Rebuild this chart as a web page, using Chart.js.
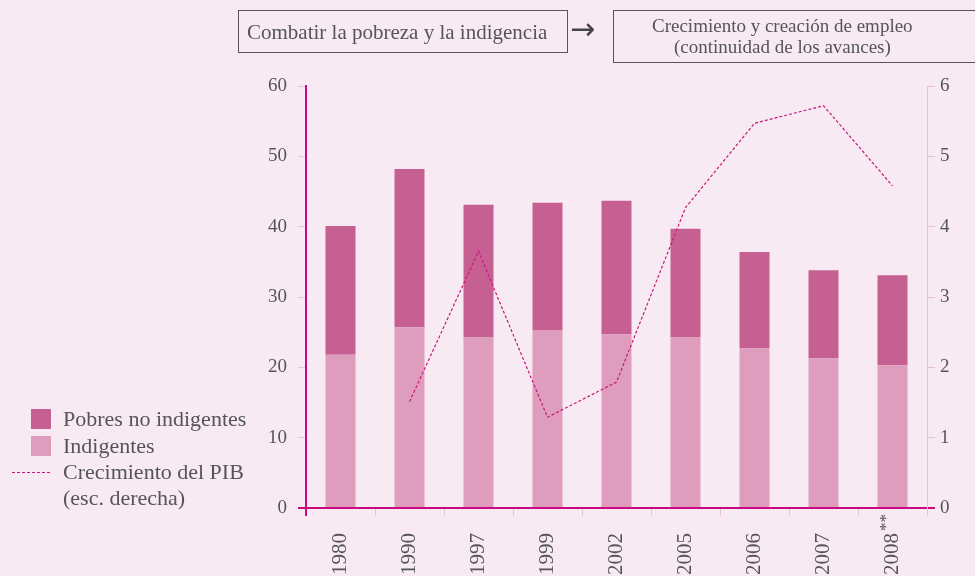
<!DOCTYPE html>
<html>
<head>
<meta charset="utf-8">
<script src="https://cdn.jsdelivr.net/npm/chart.js@4.4.1/dist/chart.umd.min.js"></script>
<style>
  html, body { margin: 0; padding: 0; background: #f8eaf2; }
  body { width: 975px; height: 576px; position: relative; overflow: hidden;
         font-family: "Liberation Serif", serif; color: #555; }
  #wrap { position: absolute; left: 0; top: 0; width: 975px; height: 576px; }
  .box { position: absolute; border: 1px solid #555; color: #555; box-sizing: border-box; white-space: nowrap; }
  #box1 { left: 238px; top: 10px; width: 330px; height: 43px; padding: 10px 0 0 8px; font-size: 21px; line-height: 22px; }
  #box2 { left: 613px; top: 10px; width: 380px; height: 53px; padding-top: 4px; font-size: 19px; line-height: 21px; }
  #box2 span { position: relative; display: block; }
  #arrow { position: absolute; left: 570px; top: 11px; font-size: 30px; color: #444; font-family: "DejaVu Sans", sans-serif; }
  .leg { position: absolute; font-size: 22px; line-height: 22px; color: #555; white-space: nowrap; }
  .sw { position: absolute; width: 20px; height: 20px; }
</style>
</head>
<body>
<div id="wrap"><canvas id="chart" width="975" height="576"></canvas></div>
<div class="box" id="box1">Combatir la pobreza y la indigencia</div>
<div id="arrow">&#8594;</div>
<div class="box" id="box2"><span style="left:38px">Crecimiento y creación de empleo</span><span style="left:60px">(continuidad de los avances)</span></div>

<div class="sw" style="left:31px;top:409px;background:#c66092"></div>
<div class="leg" style="left:63px;top:408px">Pobres no indigentes</div>
<div class="sw" style="left:31px;top:436px;background:#de9dbc"></div>
<div class="leg" style="left:63px;top:435px">Indigentes</div>
<div style="position:absolute;left:12px;top:472px;width:38px;border-top:1px dashed #c8177c"></div>
<div class="leg" style="left:63px;top:461px">Crecimiento del PIB</div>
<div class="leg" style="left:63px;top:487px">(esc. derecha)</div>

<script>
// Data
const years = ['1980', '1990', '1997', '1999', '2002', '2005', '2006', '2007', '2008**'];
const indigentes = [21.8, 25.7, 24.3, 25.3, 24.7, 24.3, 22.7, 21.3, 20.3];
const pobresNoIndigentes = [18.3, 22.5, 18.8, 18.1, 19.0, 15.4, 13.7, 12.5, 12.8];
const pibGrowth = [null, 1.51, 3.65, 1.29, 1.79, 4.27, 5.47, 5.72, 4.58];
const leftTicks = [0, 10, 20, 30, 40, 50, 60];
const rightTicks = [0, 1, 2, 3, 4, 5, 6];

const magenta = '#c8097f';
const lightPink = '#ebc0d6';
const textGray = '#555';
const tickFont = { family: 'Liberation Serif', size: 19 };
const xFont = { family: 'Liberation Serif', size: 21 };
const xPadding = 17;

// year labels keep their asterisks as a superscript drawn above the label
const footnoteMarks = {
    id: 'footnoteMarks',
    afterDraw(chart) {
        const scale = chart.scales.x;
        const c = chart.ctx;
        years.forEach((y, i) => {
            const m = y.match(/\*+$/);
            if (!m) return;
            const x = scale.getPixelForTick(i);
            const top = scale.top + 8 + xPadding;
            c.save();
            c.translate(x - 6, top - 2);
            c.rotate(-Math.PI / 2);
            c.font = '17px "Liberation Serif"';
            c.fillStyle = textGray;
            c.textAlign = 'left';
            c.textBaseline = 'middle';
            c.fillText(m[0], 0, 0);
            c.restore();
        });
    }
};

function initChart() {
    const ctx = document.getElementById('chart').getContext('2d');
    new Chart(ctx, {
        type: 'bar',
        data: {
            labels: years,
            datasets: [{
                type: 'line',
                label: 'Crecimiento del PIB',
                data: pibGrowth,
                yAxisID: 'y2',
                borderColor: '#c8177c',
                borderWidth: 1.2,
                borderDash: [3, 2],
                pointRadius: 0,
                tension: 0,
                fill: false,
                order: 0
            }, {
                label: 'Indigentes',
                data: indigentes,
                backgroundColor: '#de9dbc',
                yAxisID: 'y',
                stack: 's',
                barPercentage: 0.87,
                categoryPercentage: 0.5,
                order: 1
            }, {
                label: 'Pobres no indigentes',
                data: pobresNoIndigentes,
                backgroundColor: '#c66092',
                yAxisID: 'y',
                stack: 's',
                barPercentage: 0.87,
                categoryPercentage: 0.5,
                order: 1
            }]
        },
        options: {
            responsive: false,
            animation: false,
            layout: { padding: { top: 86, left: 0, right: 0, bottom: 0 } },
            plugins: { legend: { display: false }, tooltip: { enabled: false } },
            scales: {
                x: {
                    stacked: true,
                    afterFit: s => { s.height = 68; },
                    border: { color: magenta, width: 2 },
                    grid: {
                        offset: true,
                        drawOnChartArea: false,
                        tickLength: 8,
                        color: c => c.index === 0 ? magenta : lightPink,
                        lineWidth: c => c.index === 0 ? 2 : 1
                    },
                    ticks: {
                        minRotation: 90, maxRotation: 90,
                        padding: xPadding,
                        color: textGray,
                        font: xFont,
                        callback: (v, i) => years[i].replace(/\*+$/, '')
                    }
                },
                y: {
                    stacked: true,
                    position: 'left',
                    min: 0, max: 60,
                    afterFit: s => { s.width = 306; },
                    afterBuildTicks: s => { s.ticks = leftTicks.map(v => ({ value: v })); },
                    border: { color: magenta, width: 2 },
                    grid: {
                        drawOnChartArea: false,
                        tickLength: 8,
                        color: c => c.tick && c.tick.value === 0 ? magenta : lightPink,
                        lineWidth: c => c.tick && c.tick.value === 0 ? 2 : 1
                    },
                    ticks: { padding: 11, color: textGray, font: tickFont }
                },
                y2: {
                    position: 'right',
                    min: 0, max: 6,
                    afterFit: s => { s.width = 48; },
                    afterBuildTicks: s => { s.ticks = rightTicks.map(v => ({ value: v })); },
                    border: { color: lightPink, width: 1 },
                    grid: {
                        drawOnChartArea: false,
                        tickLength: 8,
                        color: c => c.tick && c.tick.value === 0 ? magenta : lightPink,
                        lineWidth: c => c.tick && c.tick.value === 0 ? 2 : 1
                    },
                    ticks: { padding: 5, color: textGray, font: tickFont }
                }
            }
        },
        plugins: [footnoteMarks]
    });
}

document.addEventListener('DOMContentLoaded', initChart);
</script>
</body>
</html>
